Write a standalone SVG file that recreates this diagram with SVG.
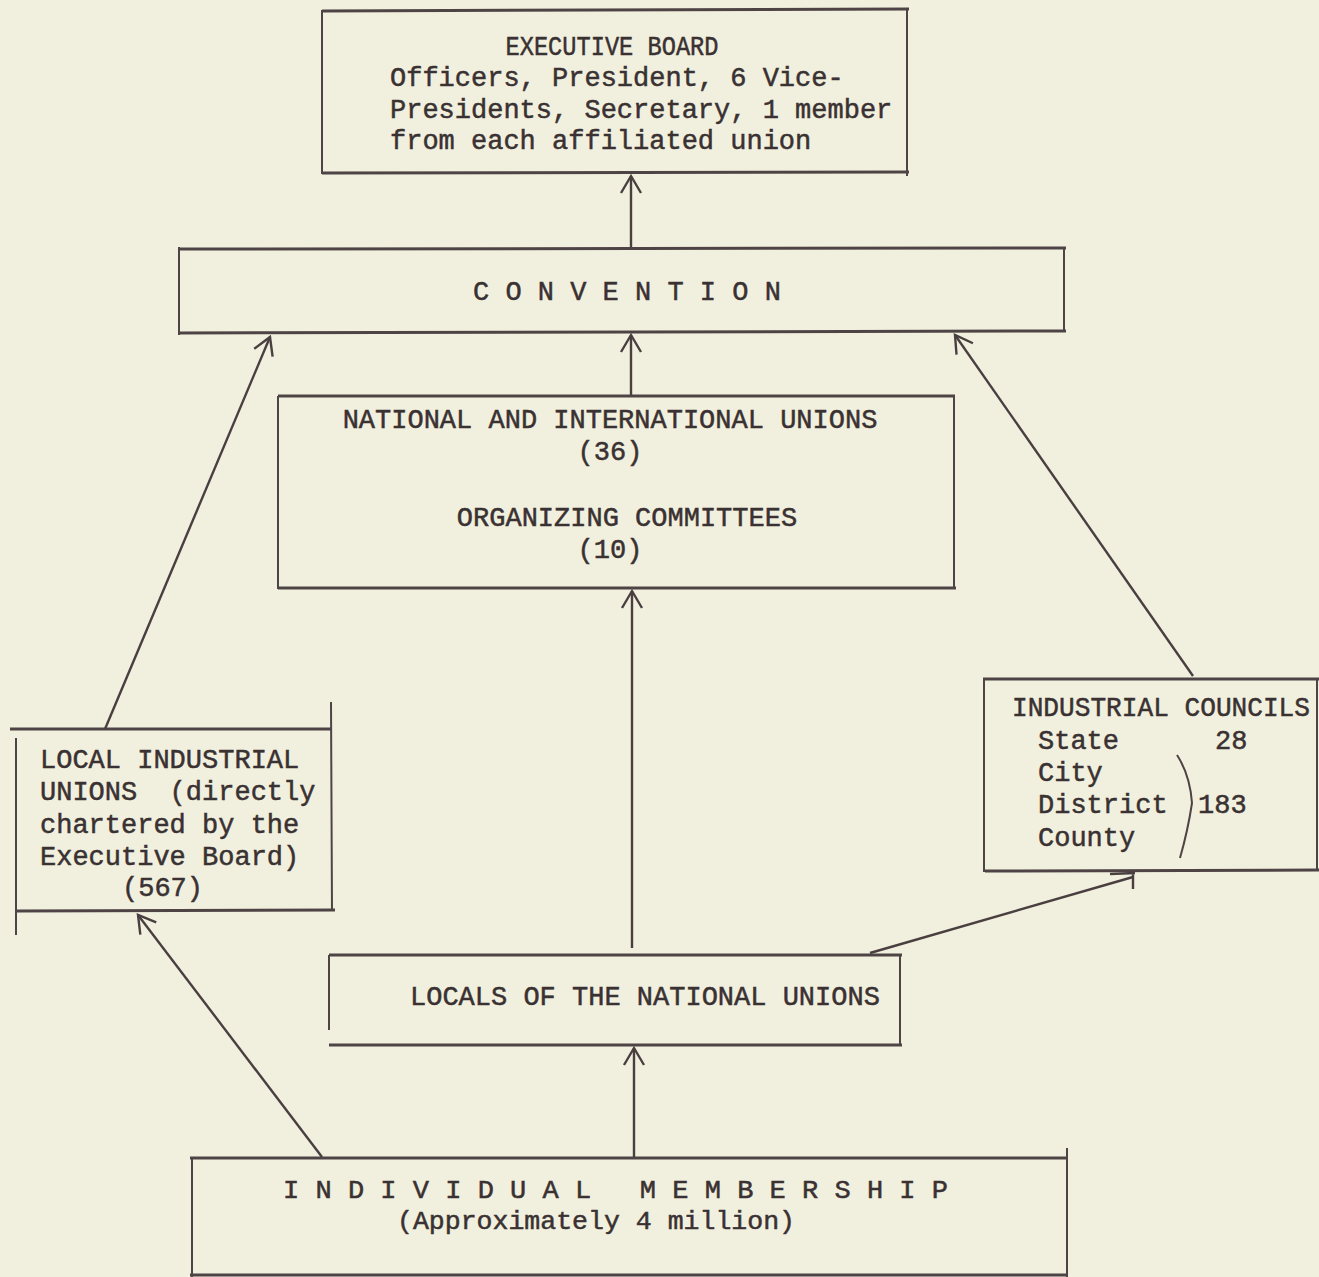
<svg xmlns="http://www.w3.org/2000/svg" width="1319" height="1277" viewBox="0 0 1319 1277">
<defs>
<marker id="arr" markerUnits="userSpaceOnUse" markerWidth="40" markerHeight="40" viewBox="-20 -20 40 40" refX="0" refY="0" orient="auto">
<path d="M-17,-10 L0,0 L-17,10" fill="none" stroke="#4a3f40" stroke-width="2.4"/>
</marker>
</defs>
<style>
.bg{fill:#f1f0de}
.h{stroke:#4f4445;stroke-width:3;fill:none}
.v{stroke:#4f4445;stroke-width:2;fill:none}
.c{stroke:#4a3f40;stroke-width:2.4;fill:none}
text{font-family:"Liberation Mono","DejaVu Sans Mono",monospace;font-size:27px;fill:#3a3132;stroke:#3a3132;stroke-width:0.5;white-space:pre}
.m{text-anchor:middle}
</style>
<rect class="bg" x="0" y="0" width="1319" height="1277"/>

<g id="executive-board">
<path class="h" d="M322,11 L909,9 M322,173 L909,172"/>
<path class="v" d="M322,10 L322,174 M907,8 L907,176"/>
<text x="612" y="55" class="m" textLength="213" lengthAdjust="spacingAndGlyphs">EXECUTIVE BOARD</text>
<text x="390" y="86">Officers, President, 6 Vice-</text>
<text x="390" y="118">Presidents, Secretary, 1 member</text>
<text x="390" y="149">from each affiliated union</text>
</g>

<g id="convention">
<path class="h" d="M178,249 L1066,248 M178,333 L1066,331"/>
<path class="v" d="M179,247 L179,335 M1064,247 L1064,330"/>
<text x="473" y="300">C O N V E N T I O N</text>
</g>

<g id="national-unions">
<path class="h" d="M278,396 L955,396 M278,588 L956,588"/>
<path class="v" d="M278,396 L278,589 M954,396 L954,588"/>
<text x="610" y="428" class="m">NATIONAL AND INTERNATIONAL UNIONS</text>
<text x="610" y="460" class="m">(36)</text>
<text x="627" y="526" class="m">ORGANIZING COMMITTEES</text>
<text x="610" y="558" class="m">(10)</text>
</g>

<g id="local-industrial-unions">
<path class="h" d="M10,729 L331,729 M17,911 L335,910"/>
<path class="v" d="M16,738 L16,935 M331,702 L332,911"/>
<text x="40" y="768">LOCAL INDUSTRIAL</text>
<text x="40" y="800">UNIONS  (directly</text>
<text x="40" y="833">chartered by the</text>
<text x="40" y="865">Executive Board)</text>
<text x="122" y="896">(567)</text>
</g>

<g id="industrial-councils">
<path class="h" d="M983,679 L1319,679 M985,871 L1319,870"/>
<path class="v" d="M984,678 L984,872 M1317,678 L1317,870"/>
<text x="1012" y="716" textLength="298" lengthAdjust="spacingAndGlyphs">INDUSTRIAL COUNCILS</text>
<text x="1038" y="749">State</text>
<text x="1215" y="749">28</text>
<text x="1038" y="781">City</text>
<text x="1038" y="813">District</text>
<text x="1198" y="813">183</text>
<text x="1038" y="846">County</text>
<path class="v" d="M1177,755 Q1190,775 1192,803 Q1188,830 1180,858" stroke-width="1.6"/>
</g>

<g id="locals-national">
<path class="h" d="M329,955 L902,955 M329,1045 L902,1045"/>
<path class="v" d="M329,955 L329,1030 M900,955 L900,1046"/>
<text x="410" y="1005">LOCALS OF THE NATIONAL UNIONS</text>
</g>

<g id="individual-membership">
<path class="h" d="M190,1158 L1068,1158 M190,1275 L1068,1275"/>
<path class="v" d="M192,1158 L192,1277 M1067,1148 L1067,1277"/>
<text x="283" y="1198" style="font-size:25px" textLength="665" lengthAdjust="spacingAndGlyphs">I N D I V I D U A L   M E M B E R S H I P</text>
<text x="397" y="1229" style="font-size:25px" textLength="398" lengthAdjust="spacingAndGlyphs">(Approximately 4 million)</text>
</g>

<g id="connectors">
<line class="c" x1="631" y1="247" x2="631" y2="176" marker-end="url(#arr)"/>
<line class="c" x1="631" y1="395" x2="631" y2="335" marker-end="url(#arr)"/>
<line class="c" x1="632" y1="948" x2="632" y2="591" marker-end="url(#arr)"/>
<line class="c" x1="105" y1="729" x2="270" y2="337" marker-end="url(#arr)"/>
<line class="c" x1="1193" y1="676" x2="955" y2="335" marker-end="url(#arr)"/>
<line class="c" x1="634" y1="1157" x2="634" y2="1048" marker-end="url(#arr)"/>
<line class="c" x1="322" y1="1157" x2="138" y2="915" marker-end="url(#arr)"/>
<line class="c" x1="870" y1="953" x2="1133" y2="877"/>
<path class="c" d="M1133,874 L1133,889 M1110,874 L1135,873"/>
</g>
</svg>
